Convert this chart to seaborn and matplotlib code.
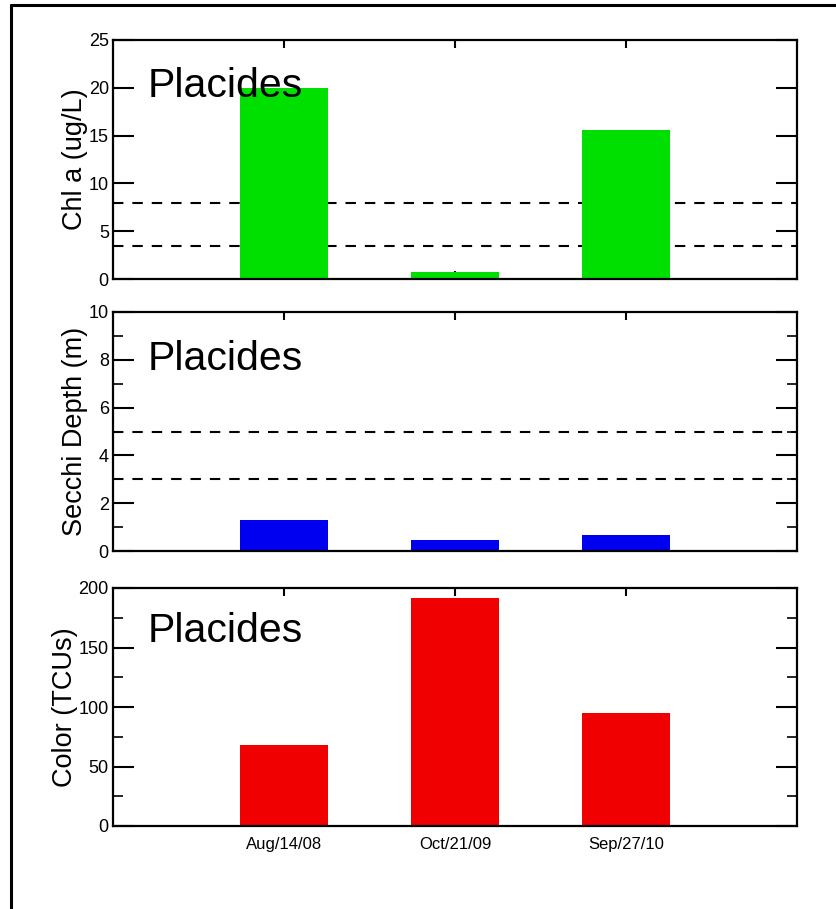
import matplotlib
matplotlib.use("Agg")
import matplotlib.pyplot as plt
from matplotlib.lines import Line2D
from matplotlib.ticker import MultipleLocator
import pandas as pd
import seaborn as sns

# Sampling dates and measured values for Placides lake
dates = ["Aug/14/08", "Oct/21/09", "Sep/27/10"]
chl_a = [20.0, 0.7, 15.6]          # ug/L
secchi = [1.3, 0.45, 0.67]         # m
color_tcu = [68, 192, 95]          # TCUs

chl_limits = [8.0, 3.5]
secchi_limits = [5.0, 3.0]
site = "Placides"

sns.set_theme(style="white")
plt.rcParams["font.family"] = ["Liberation Sans", "DejaVu Sans"]

fig = plt.figure(figsize=(8.36, 9.09), dpi=100)

W, H = 836.0, 909.0
left_px, right_px = 113, 797
panels = [
    dict(top=40, bottom=279, values=chl_a, color="#00e000", ylim=(0, 25),
         major=5, minor=None, ylabel="Chl a (ug/L)", limits=chl_limits, text_y=0.762),
    dict(top=312, bottom=551, values=secchi, color="#0000f0", ylim=(0, 10),
         major=2, minor=1, ylabel="Secchi Depth (m)", limits=secchi_limits, text_y=0.757),
    dict(top=588, bottom=826, values=color_tcu, color="#f00000", ylim=(0, 200),
         major=50, minor=25, ylabel="Color (TCUs)", limits=[], text_y=0.773),
]

for i, p in enumerate(panels):
    ax = fig.add_axes([left_px / W, 1 - p["bottom"] / H,
                       (right_px - left_px) / W, (p["bottom"] - p["top"]) / H])
    df = pd.DataFrame({"date": dates, "value": p["values"]})
    sns.barplot(data=df, x="date", y="value", color=p["color"], saturation=1,
                width=0.51, ax=ax, zorder=1, linewidth=0)
    for lim in p["limits"]:
        ax.axhline(lim, color="black", lw=1.5, dashes=(5, 4.3), zorder=0.8)

    ax.set_xlim(-1, 3)
    ax.set_ylim(*p["ylim"])
    ax.set_axisbelow(True)
    ax.yaxis.set_major_locator(MultipleLocator(p["major"]))
    if p["minor"]:
        ax.yaxis.set_minor_locator(MultipleLocator(p["minor"]))

    ax.tick_params(axis="y", which="major", direction="in", length=15, width=1.5,
                   left=True, right=True, labelsize=13, pad=3, color="black")
    ax.tick_params(axis="y", which="minor", direction="in", length=7.5, width=1.2,
                   left=True, right=True, color="black")
    ax.tick_params(axis="x", which="major", direction="in", length=5.5, width=1.5,
                   top=True, bottom=True, labelsize=12, pad=8, color="black")
    if i < 2:
        ax.set_xticklabels([])
    ax.set_xlabel("")
    ax.set_ylabel(p["ylabel"], fontsize=19.5, labelpad=0.5, color="black")
    for lbl in ax.get_yticklabels() + ax.get_xticklabels():
        lbl.set_color("black")

    for s in ax.spines.values():
        s.set_visible(True)
        s.set_color("black")
        s.set_linewidth(1.6)

    ax.text(0.05, p["text_y"], site, transform=ax.transAxes, fontsize=29.5,
            va="baseline", ha="left", color="black")

# Outer frame lines along the top and left edges
fig.add_artist(Line2D([10.5 / W, 1.0], [1 - 5 / H, 1 - 5 / H], color="black",
                      lw=2.2, transform=fig.transFigure))
fig.add_artist(Line2D([10.5 / W, 10.5 / W], [1 - 5 / H, 0.0], color="black",
                      lw=2.2, transform=fig.transFigure))

fig.savefig("out.png", dpi=100, facecolor="white")
